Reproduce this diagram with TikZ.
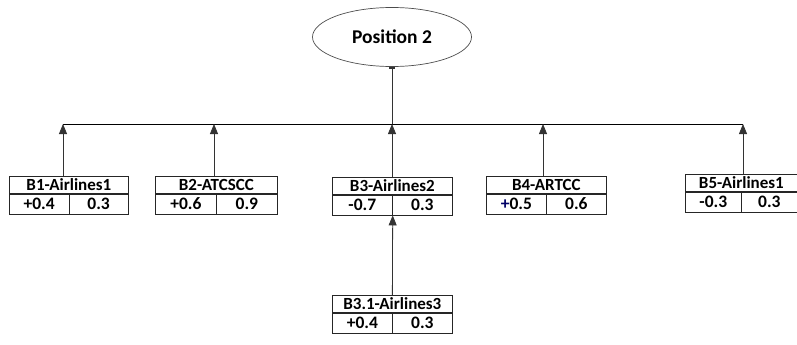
\documentclass[tikz,border=0pt]{standalone}
\usepackage{fontspec}
\setmainfont{Carlito}
\usetikzlibrary{arrows.meta,shapes.geometric}

\tikzset{
  hdr/.style={draw=black!85,line width=0.7pt,rectangle,inner sep=0pt,minimum height=17pt,font=\bfseries\fontsize{17}{17}\selectfont},
  val/.style={draw=black!85,line width=0.7pt,rectangle,inner sep=0pt,minimum height=20pt,font=\bfseries\fontsize{17.5}{17.5}\selectfont},
  up/.style={draw=black!80,line width=0.8pt,-{Triangle[length=10pt,width=8pt]}}
}
% box with a title row and two value cells
\newcommand{\scorebox}[7]{
  \node[hdr,minimum width=#4pt,anchor=north west] (#1) at (#2,#3) {#5};
  \node[val,minimum width=#4pt/2,anchor=north west] (#1-a) at (#1.south west) {#6};
  \node[val,minimum width=#4pt/2,anchor=north east] (#1-b) at (#1.south east) {#7};
}

\begin{document}
\begin{tikzpicture}[x=1pt,y=-1pt]
  \useasboundingbox (0,0) rectangle (797,345);

  \node[ellipse,draw=black!70,line width=0.7pt,minimum width=159pt,minimum height=59pt,
        font=\bfseries\fontsize{19.5}{19.5}\selectfont] (P) at (392,37) {Position 2};

  \scorebox{B1}{9}{176}{119}{B1-Airlines1}{+0.4}{0.3}
  \scorebox{B2}{155}{176}{122}{B2-ATCSCC}{+0.6}{0.9}
  \scorebox{B3}{332}{177}{120}{B3-Airlines2}{-0.7}{0.3}
  \scorebox{B4}{486}{176}{120}{B4-ARTCC}{{\color{blue!40!black}+}0.5}{0.6}
  \scorebox{B5}{685}{174}{112}{B5-Airlines1}{-0.3}{0.3}
  \scorebox{B31}{332}{295}{120}{B3.1-Airlines3}{+0.4}{0.3}

  % bus points
  \coordinate (t1) at (63,124);
  \coordinate (t2) at (214,124);
  \coordinate (t3) at (392,124);
  \coordinate (t4) at (543,124);
  \coordinate (t5) at (743,124);

  \draw[line width=0.8pt] (t1) -- (t5);
  \draw[draw=black!80,line width=0.8pt,-{Rectangle[length=2pt,width=6pt]}] (t3) -- (P.south);

  \draw[up] (t1 |- B1.north) -- (t1);
  \draw[up] (t2 |- B2.north) -- (t2);
  \draw[up] (t3 |- B3.north) -- (t3);
  \draw[up] (t4 |- B4.north) -- (t4);
  \draw[up] (t5 |- B5.north) -- (t5);
  \draw[up] (B31.north) -- (B3-a.south east);
\end{tikzpicture}
\end{document}
